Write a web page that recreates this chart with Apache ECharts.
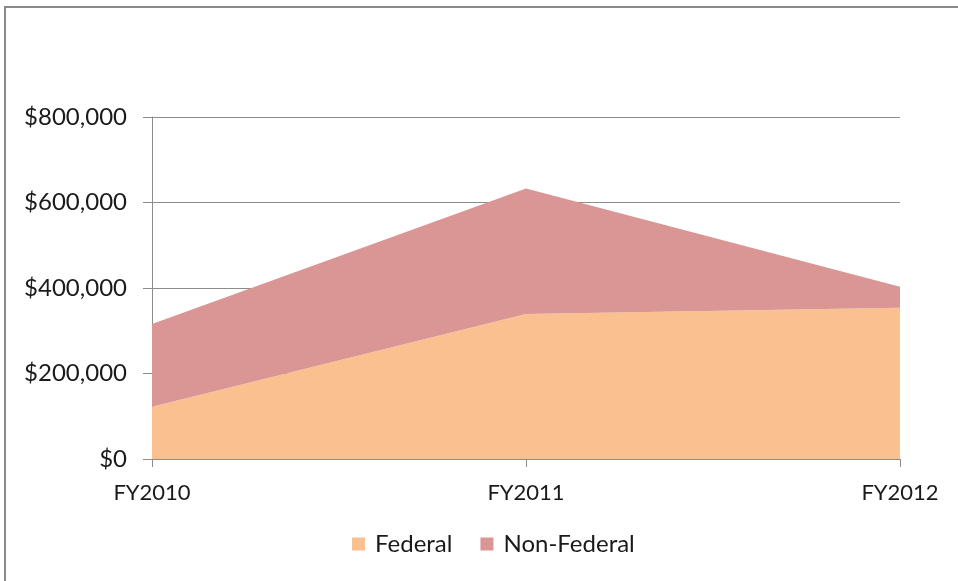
<!DOCTYPE html>
<html>
<head>
<meta charset="utf-8">
<script src="https://cdn.jsdelivr.net/npm/echarts@6/dist/echarts.min.js"></script>
<style>
html,body{margin:0;padding:0;background:#fff;}
#chart{width:958px;height:581px;}
</style>
</head>
<body>
<div id="chart"></div>
<script>
const categories = ['FY2010', 'FY2011', 'FY2012'];
const federal = [122000, 339000, 354000];
const nonFederal = [193500, 294000, 49000];
const seriesNames = ['Federal', 'Non-Federal'];

const FONT = 'Lato';
const chart = echarts.init(document.getElementById('chart'), null, {renderer: 'canvas'});
chart.setOption({
  animation: false,
  backgroundColor: '#ffffff',
  graphic: [{
    type: 'rect', silent: true, z: -1,
    shape: {x: 5, y: 7, width: 1000, height: 640},
    style: {fill: 'none', stroke: '#8a8a8a', lineWidth: 2}
  }],
  grid: {left: 152, right: 58, top: 117, bottom: 122},
  legend: {
    data: seriesNames,
    bottom: 25,
    left: 352,
    padding: 0,
    itemWidth: 13, itemHeight: 13, itemGap: 28,
    icon: 'rect',
    textStyle: {fontFamily: FONT, fontSize: 24, color: '#1a1a1a', padding: [0, 0, 0, 5]}
  },
  xAxis: {
    type: 'category',
    data: categories,
    boundaryGap: false,
    axisLine: {lineStyle: {color: '#8c8c8c', width: 1}},
    axisTick: {show: true, alignWithLabel: true, length: 8, lineStyle: {color: '#8c8c8c'}},
    axisLabel: {fontFamily: FONT, fontSize: 22, color: '#1a1a1a', margin: 23},
    splitLine: {show: false}
  },
  yAxis: {
    type: 'value',
    min: 0, max: 800000, interval: 200000,
    axisLine: {show: true, lineStyle: {color: '#8c8c8c', width: 1}},
    axisTick: {show: true, length: 9, lineStyle: {color: '#8c8c8c'}},
    axisLabel: {
      fontFamily: FONT, fontSize: 24, color: '#1a1a1a', margin: 25,
      formatter: v => '$' + v.toLocaleString('en-US')
    },
    splitLine: {lineStyle: {color: '#8c8c8c', width: 1}}
  },
  series: [
    {
      name: seriesNames[0], type: 'line', stack: 'total', data: federal,
      symbol: 'none', lineStyle: {width: 0}, itemStyle: {color: '#FAC090'},
      areaStyle: {color: '#FAC090', opacity: 1}
    },
    {
      name: seriesNames[1], type: 'line', stack: 'total', data: nonFederal,
      symbol: 'none', lineStyle: {width: 0}, itemStyle: {color: '#D99694'},
      areaStyle: {color: '#D99694', opacity: 1}
    }
  ]
});
</script>
</body>
</html>
